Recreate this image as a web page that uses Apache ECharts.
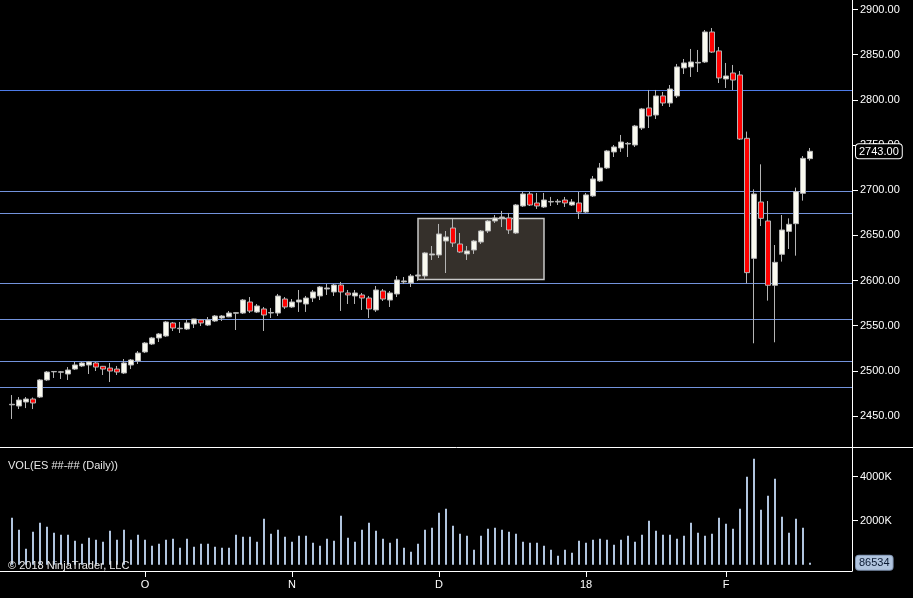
<!DOCTYPE html>
<html>
<head>
<meta charset="utf-8">
<title>ES ##-## (Daily)</title>
<script src="https://cdn.jsdelivr.net/npm/echarts@6/dist/echarts.min.js"></script>
<style>
  html, body { margin: 0; padding: 0; background: #000; }
  #chart { width: 913px; height: 598px; }
</style>
</head>
<body>
<div id="chart"></div>
<script>
// daily bars, oldest first (one slot per session)
const OPEN = [
  2462.4, 2461.1, 2465.5, 2468.8, 2471.0, 2489.9, 2498.9, 2498.5, 2496.5, 2502.0,
  2505.4, 2506.5, 2508.7, 2505.0, 2503.1, 2502.0, 2497.6, 2506.5, 2510.9, 2520.9,
  2529.7, 2536.4, 2538.6, 2553.0, 2546.6, 2546.3, 2551.9, 2556.3, 2550.7, 2555.2,
  2558.5, 2559.8, 2563.8, 2564.0, 2576.2, 2565.1, 2568.5, 2564.0, 2564.0, 2579.5,
  2570.7, 2576.2, 2574.0, 2580.6, 2582.9, 2590.6, 2587.3, 2595.0, 2586.2, 2582.9,
  2584.0, 2580.6, 2567.4, 2588.4, 2578.4, 2585.1, 2598.4, 2597.3, 2604.9, 2605.0,
  2628.3, 2628.3, 2643.7, 2658.1, 2640.4, 2629.4, 2633.8, 2642.6, 2654.8, 2665.9,
  2669.2, 2669.2, 2652.6, 2682.5, 2695.8, 2685.8, 2681.4, 2686.9, 2686.9, 2689.1,
  2683.6, 2685.8, 2675.8, 2693.6, 2710.2, 2724.6, 2742.3, 2746.7, 2751.1, 2750.0,
  2768.8, 2791.0, 2783.2, 2804.3, 2796.5, 2804.3, 2835.3, 2836.4, 2840.8, 2841.9,
  2875.1, 2854.1, 2823.1, 2829.7, 2827.5, 2757.4, 2624.5, 2686.9, 2665.9, 2594.7,
  2629.0, 2654.4, 2662.9, 2696.5, 2734.9
];
const HIGH = [
  2473.2, 2471.0, 2471.0, 2470.5, 2491.0, 2499.8, 2499.8, 2499.8, 2504.2, 2509.8,
  2509.8, 2510.9, 2509.8, 2505.4, 2508.7, 2505.4, 2513.1, 2513.1, 2521.9, 2531.9,
  2537.5, 2541.9, 2555.2, 2554.1, 2554.1, 2556.3, 2557.6, 2556.6, 2559.6, 2561.8,
  2561.8, 2566.2, 2565.1, 2579.5, 2581.7, 2574.0, 2570.7, 2569.6, 2585.1, 2581.7,
  2579.5, 2589.5, 2582.9, 2589.5, 2593.9, 2596.1, 2596.1, 2598.4, 2589.5, 2589.5,
  2586.2, 2582.9, 2593.9, 2590.6, 2588.4, 2605.0, 2603.9, 2607.2, 2607.2, 2631.6,
  2638.2, 2662.6, 2654.8, 2668.1, 2652.6, 2638.2, 2644.9, 2655.9, 2667.0, 2672.5,
  2677.0, 2674.8, 2684.7, 2698.0, 2698.0, 2696.9, 2696.9, 2692.5, 2690.2, 2692.5,
  2690.2, 2698.0, 2696.9, 2715.7, 2730.1, 2744.5, 2750.0, 2761.1, 2753.3, 2772.2,
  2791.0, 2810.9, 2810.9, 2808.7, 2816.4, 2839.7, 2845.2, 2856.3, 2855.2, 2877.3,
  2879.5, 2858.5, 2840.8, 2838.6, 2831.9, 2764.8, 2700.9, 2728.6, 2688.0, 2639.3,
  2672.5, 2668.8, 2702.8, 2737.8, 2746.7
];
const LOW = [
  2446.7, 2457.7, 2458.8, 2457.7, 2469.9, 2488.8, 2492.1, 2491.0, 2489.9, 2500.9,
  2504.2, 2496.5, 2499.8, 2495.4, 2487.6, 2495.4, 2496.5, 2502.0, 2507.6, 2519.7,
  2528.6, 2531.9, 2537.5, 2544.1, 2541.9, 2545.2, 2547.4, 2549.6, 2549.6, 2554.1,
  2555.2, 2559.4, 2545.2, 2562.9, 2564.0, 2564.0, 2544.1, 2558.5, 2560.7, 2568.5,
  2569.6, 2565.2, 2565.2, 2576.2, 2578.4, 2584.0, 2582.9, 2566.3, 2574.0, 2574.0,
  2567.4, 2558.5, 2565.2, 2577.3, 2570.7, 2581.7, 2596.1, 2592.8, 2599.5, 2600.6,
  2622.7, 2624.9, 2608.3, 2637.1, 2630.5, 2622.7, 2629.4, 2640.4, 2652.6, 2663.7,
  2659.2, 2651.5, 2651.5, 2681.4, 2682.5, 2679.2, 2680.3, 2682.5, 2683.6, 2681.4,
  2682.5, 2668.1, 2674.7, 2692.5, 2709.1, 2723.4, 2736.7, 2742.3, 2736.7, 2747.8,
  2766.6, 2768.8, 2778.8, 2793.2, 2792.1, 2802.0, 2828.6, 2825.3, 2830.8, 2840.8,
  2851.9, 2818.6, 2813.1, 2810.9, 2755.5, 2596.9, 2530.5, 2660.3, 2577.7, 2531.6,
  2620.9, 2634.9, 2627.5, 2688.4, 2732.7
];
const CLOSE = [
  2463.0, 2467.7, 2468.8, 2464.4, 2489.9, 2498.7, 2499.3, 2498.9, 2500.9, 2506.5,
  2508.7, 2509.8, 2504.2, 2502.0, 2499.8, 2498.7, 2508.7, 2512.0, 2519.7, 2530.8,
  2536.4, 2540.8, 2554.1, 2547.4, 2547.2, 2553.0, 2557.4, 2553.0, 2556.3, 2560.7,
  2560.7, 2564.0, 2564.4, 2578.4, 2566.2, 2571.8, 2561.8, 2564.6, 2582.8, 2570.7,
  2576.2, 2578.4, 2580.6, 2587.3, 2592.8, 2591.7, 2595.0, 2587.3, 2584.0, 2586.2,
  2580.6, 2568.5, 2589.5, 2579.5, 2586.2, 2600.6, 2599.5, 2605.0, 2606.1, 2630.5,
  2629.4, 2651.5, 2648.2, 2641.5, 2631.6, 2632.7, 2643.7, 2654.8, 2665.9, 2669.2,
  2670.3, 2655.9, 2683.6, 2695.8, 2683.6, 2682.5, 2689.1, 2687.5, 2687.7, 2685.8,
  2686.9, 2675.8, 2694.7, 2712.4, 2724.6, 2743.4, 2747.8, 2753.3, 2751.8, 2771.0,
  2789.9, 2782.1, 2804.3, 2796.5, 2812.0, 2836.4, 2840.8, 2841.9, 2841.5, 2875.1,
  2852.9, 2824.2, 2826.4, 2821.9, 2756.6, 2608.7, 2695.8, 2668.8, 2594.7, 2620.1,
  2655.9, 2662.2, 2698.3, 2735.2, 2743.0
];
const VOLUME = [
  2136000, 1590000, 727000, 1500000, 1909000, 1727000, 1454000, 1364000, 1364000, 1090000,
  954000, 1227000, 1136000, 1045000, 1545000, 1136000, 1590000, 1136000, 1364000, 1136000,
  864000, 954000, 1136000, 1182000, 773000, 1182000, 818000, 954000, 954000, 818000,
  773000, 773000, 1364000, 1273000, 1273000, 1045000, 2091000, 1409000, 1590000, 1273000,
  1045000, 1318000, 1318000, 1000000, 864000, 1182000, 1090000, 2227000, 1227000, 1045000,
  1590000, 1909000, 1545000, 1182000, 1000000, 1182000, 773000, 591000, 954000, 1590000,
  1682000, 2364000, 2545000, 1773000, 1409000, 1318000, 682000, 1318000, 1636000, 1682000,
  1590000, 1500000, 1409000, 1045000, 1000000, 1000000, 864000, 682000, 409000, 682000,
  545000, 1090000, 1000000, 1136000, 1182000, 1136000, 909000, 1136000, 1318000, 1045000,
  1364000, 2000000, 1545000, 1364000, 1364000, 1182000, 1318000, 1909000, 1454000, 1318000,
  1409000, 2136000, 1864000, 1636000, 2545000, 4000000, 4818000, 2500000, 3136000, 3909000,
  2182000, 1454000, 2091000, 1682000, 86534
];

// axis ticks
const PRICE_TICKS = [2450, 2500, 2550, 2600, 2650, 2700, 2750, 2800, 2850, 2900];
const VOLUME_TICKS = [2000000, 4000000];
const MONTH_SLOTS = [20, 41, 62, 83, 103];
const MONTH_LABELS = ['O', 'N', 'D', '18', 'F'];

// drawing objects on the price panel
const HLINE_PRICES = [2810.6, 2699.1, 2674.4, 2596.9, 2557.1, 2510.9, 2481.8];
const BOX_SLOTS = [59, 77];
const BOX_PRICES = [2668.7, 2601.2];

const FONT = "'Liberation Sans', Arial, sans-serif";
const SLOT_COUNT = 121;
const FIRST_SLOT = 1;
const PRICE_MIN = 2415.7, PRICE_MAX = 2910.5;
const VOL_MIN = -286000, VOL_MAX = 5350000;

const slots = Array.from({ length: SLOT_COUNT }, (_, k) => String(k));
const candleData = OPEN.map((o, i) => [FIRST_SLOT + i, o, CLOSE[i], LOW[i], HIGH[i]]);
const volumeData = VOLUME.map((v, i) => [FIRST_SLOT + i, v]);
const lastClose = CLOSE[CLOSE.length - 1];
const lastVolume = VOLUME[VOLUME.length - 1];

const chart = echarts.init(document.getElementById('chart'));

const hiddenCat = (gridIndex) => ({
  type: 'category', gridIndex, data: slots, show: false, boundaryGap: true
});

chart.setOption({
  backgroundColor: '#000',
  animation: false,
  title: [
    {
      text: 'VOL(ES ##-## (Daily))', left: 3, top: 455,
      textStyle: { color: '#e8e8e8', fontSize: 11, fontWeight: 'normal', fontFamily: FONT }
    },
    {
      text: '\u00a9 2018 NinjaTrader, LLC', left: 3, top: 555,
      textStyle: { color: '#e8e8e8', fontSize: 11, fontWeight: 'normal', fontFamily: FONT }
    }
  ],
  grid: [
    { left: 1.5, top: 0, width: 847, height: 447 },
    { left: 0, top: 0, width: 852, height: 447 },
    { left: 1.5, top: 447, width: 847, height: 124 },
    { left: 0, top: 447, width: 852, height: 124 }
  ],
  xAxis: [
    hiddenCat(0),
    { type: 'value', gridIndex: 1, min: -5 / 7, max: 121, show: false },
    hiddenCat(2),
    {
      type: 'value', gridIndex: 3, min: -5 / 7, max: 121, position: 'bottom',
      axisLine: { show: true, onZero: false, lineStyle: { color: '#fff', width: 1 } },
      axisTick: { show: true, length: 6, customValues: MONTH_SLOTS, lineStyle: { color: '#fff' } },
      axisLabel: {
        show: true, customValues: MONTH_SLOTS, margin: 8,
        formatter: (v) => MONTH_LABELS[MONTH_SLOTS.indexOf(v)] || '',
        color: '#fff', fontSize: 11, fontFamily: FONT
      },
      splitLine: { show: false }
    }
  ],
  yAxis: [
    { type: 'value', gridIndex: 0, min: PRICE_MIN, max: PRICE_MAX, show: false },
    {
      type: 'value', gridIndex: 1, min: PRICE_MIN, max: PRICE_MAX, position: 'right',
      axisLine: { show: true, onZero: false, lineStyle: { color: '#fff', width: 1 } },
      axisTick: { show: true, length: 6, customValues: PRICE_TICKS, lineStyle: { color: '#fff' } },
      axisLabel: {
        show: true, customValues: PRICE_TICKS, margin: 8,
        formatter: (v) => v.toFixed(2),
        color: '#fff', fontSize: 11, fontFamily: FONT
      },
      splitLine: { show: false },
      axisPointer: {
        show: true, status: 'show', value: lastClose, triggerTooltip: false,
        lineStyle: { opacity: 0 },
        label: {
          show: true, margin: 4, padding: [2, 3, 1, 3],
          formatter: (p) => Number(p.value).toFixed(2),
          backgroundColor: '#000', borderColor: '#fff', borderWidth: 1,
          color: '#fff', fontSize: 11, fontFamily: FONT
        }
      }
    },
    { type: 'value', gridIndex: 2, min: VOL_MIN, max: VOL_MAX, show: false },
    {
      type: 'value', gridIndex: 3, min: VOL_MIN, max: VOL_MAX, position: 'right',
      axisLine: { show: true, onZero: false, lineStyle: { color: '#fff', width: 1 } },
      axisTick: { show: true, length: 6, customValues: VOLUME_TICKS, lineStyle: { color: '#fff' } },
      axisLabel: {
        show: true, customValues: VOLUME_TICKS, margin: 8,
        formatter: (v) => Math.round(v / 1000) + 'K',
        color: '#fff', fontSize: 11, fontFamily: FONT
      },
      splitLine: { show: false },
      axisPointer: {
        show: true, status: 'show', value: lastVolume, triggerTooltip: false,
        lineStyle: { opacity: 0 },
        label: {
          show: true, margin: 4, padding: [2, 3, 1, 3],
          formatter: (p) => String(Math.round(p.value)),
          backgroundColor: '#b0c4de', borderColor: '#7f93b0', borderWidth: 1,
          color: '#0b1a33', fontSize: 11, fontFamily: FONT
        }
      }
    }
  ],
  graphic: [
    {
      type: 'line', silent: true, z: 100,
      shape: { x1: 0, y1: 447.5, x2: 913, y2: 447.5 },
      style: { stroke: '#fff', lineWidth: 1 }
    }
  ],
  series: [
    {
      // drawn rectangle
      type: 'line', xAxisIndex: 0, yAxisIndex: 0, data: [], z: 1, silent: true,
      markArea: {
        silent: true,
        itemStyle: { color: '#35302b', borderColor: '#c8c8c8', borderWidth: 1.5 },
        data: [[
          { xAxis: BOX_SLOTS[0], yAxis: BOX_PRICES[0] },
          { xAxis: BOX_SLOTS[1], yAxis: BOX_PRICES[1] }
        ]]
      }
    },
    {
      // drawn horizontal lines
      type: 'line', xAxisIndex: 1, yAxisIndex: 1, data: [], z: 1, silent: true,
      markLine: {
        silent: true, symbol: ['none', 'none'], animation: false,
        label: { show: false },
        lineStyle: { color: '#7393dc', width: 1, type: 'solid' },
        data: HLINE_PRICES.map((v, i) => ({
          yAxis: v,
          lineStyle: { color: i === 0 ? '#4d7be8' : '#7393dc', width: 1, type: 'solid' }
        }))
      }
    },
    {
      name: 'ES ##-## (Daily)',
      type: 'candlestick', xAxisIndex: 0, yAxisIndex: 0, z: 5,
      barWidth: 5,
      encode: { x: 0, y: [1, 2, 3, 4] },
      data: candleData,
      itemStyle: {
        color: '#fafaf0', color0: '#ff0000',
        borderColor: '#b4b4b4', borderColor0: '#b4b4b4', borderColorDoji: '#b4b4b4',
        borderWidth: 1
      }
    },
    {
      name: 'VOL',
      type: 'bar', xAxisIndex: 2, yAxisIndex: 2, barWidth: 2,
      encode: { x: 0, y: 1 },
      data: volumeData,
      itemStyle: { color: '#b0c4de' }
    }
  ]
});
</script>
</body>
</html>
